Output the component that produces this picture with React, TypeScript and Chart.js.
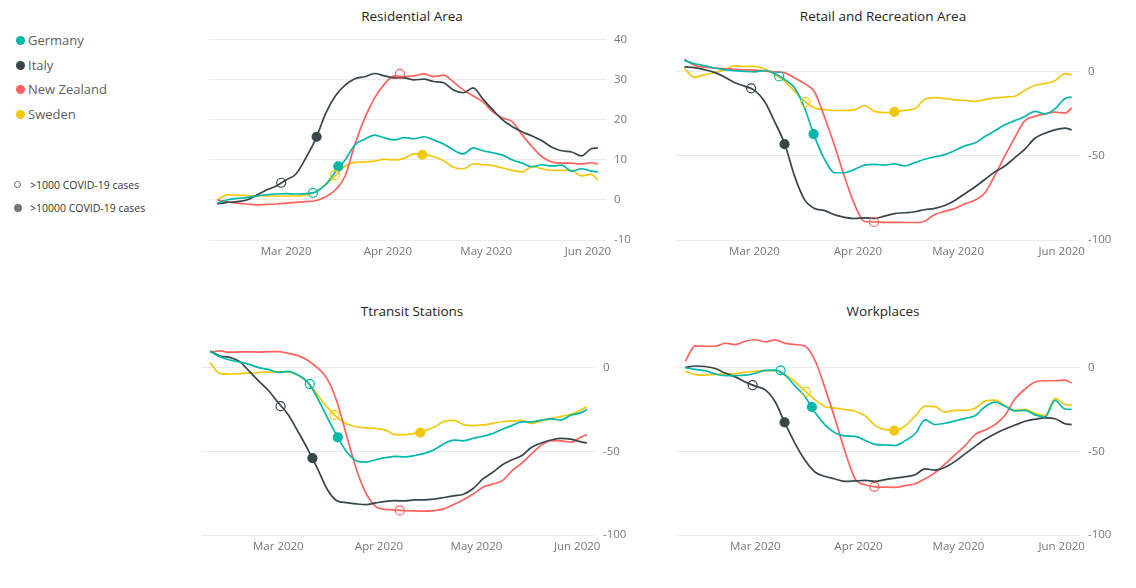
import React, { useEffect, useRef } from "react";
import { Chart, registerables } from "chart.js";

Chart.register(...registerables);

const FONT = "'Segoe UI', 'Open Sans', sans-serif";

// day offsets relative to 1 Mar 2020
const days = [-21, -18, -15, -12, -9, -6, -3, 0, 3, 6, 9, 12, 15, 18, 21, 24, 27, 30, 33, 36, 39, 42, 45, 48, 51, 54, 57, 60, 63, 66, 69, 72, 75, 78, 81, 84, 87, 90, 93, 95];
const monthTickDays = [0, 31, 61, 92];
const monthTickLabels = ["Mar 2020", "Apr 2020", "May 2020", "Jun 2020"];

const countries = ["Germany", "Italy", "New Zealand", "Sweden"];
const countryColors = ["#01B8AA", "#374649", "#FD625E", "#F2C80F"];

// Residential Area
const residentialGermany = [-0.8, 0, 0.4, 0.6, 1, 1.3, 1.5, 1.6, 1.5, 1.6, 2, 3.8, 7, 10, 13.8, 15.2, 16.2, 15.5, 15, 15.6, 15.3, 15.8, 15, 14, 12.5, 11.5, 13, 12.3, 11.8, 11.2, 10, 9.2, 8.3, 8.8, 8.5, 8.7, 7.2, 7.8, 7.2, 7];
const residentialItaly = [-1, -0.6, -0.4, 0, 1.2, 2.5, 3.5, 5, 6.5, 10.5, 15.2, 21.5, 26, 28.7, 30.3, 30.8, 31.6, 31, 30.5, 30.5, 30, 30.2, 29.6, 29.3, 27.5, 26.8, 28, 25.2, 22.5, 20, 18.3, 17, 16, 14.8, 13.2, 12.3, 12, 11, 12.8, 13];
const residentialNewZealand = [0, -0.5, -0.8, -1, -1.2, -1.1, -1, -0.8, -0.6, -0.4, -0.2, 0.8, 2.5, 6, 14, 20.5, 25.5, 29, 31, 30.8, 31, 31.5, 30.8, 31.2, 29.5, 27.5, 26, 24.5, 22, 20.5, 19.5, 16.2, 13.3, 10.8, 9.5, 9.2, 9.2, 9, 9.3, 9];
const residentialSweden = [0, 1.3, 1.2, 1.1, 1, 1, 1, 1, 1, 1.2, 2, 3.8, 6, 8.5, 9.4, 9.5, 9.7, 10.2, 10, 10.4, 11.5, 11.4, 10.8, 9.8, 8.2, 7.8, 9, 8.8, 8.6, 8, 7.4, 7, 8.4, 7.8, 7.4, 7.4, 7.4, 6, 6.4, 5];

// Retail and Recreation Area
const retailGermany = [6.8, 4.8, 3.7, 2.3, 1.3, 0.7, 0.3, 0, 0.8, -1, -4.5, -9.5, -21.5, -38.5, -52, -60, -60, -58, -55.5, -55, -55.5, -54.7, -56, -54, -52, -50.5, -49.2, -46.8, -44, -42.3, -38.5, -35, -31.5, -29, -26.5, -23.5, -25, -22, -15.8, -15];
const retailItaly = [3, 2.5, 1.3, -0.3, -3, -6.3, -8.5, -11, -17.5, -29.5, -42.5, -62, -76, -81.3, -82.5, -85, -86.5, -87.2, -86.8, -87.2, -85.8, -84.3, -83.8, -83.2, -82, -81.2, -79.5, -76.5, -72.5, -68.5, -64, -59.5, -56, -51, -46, -39.5, -36.5, -34.5, -33.5, -34.5];
const retailNewZealand = [7.5, 4, 2.8, 2.3, 2, 1.5, 1.2, 1, 0.5, 0, -0.5, -3.5, -7, -12, -27, -44, -62.5, -79, -89, -89.3, -89.5, -89.5, -89.6, -89.6, -88.8, -84.8, -83, -81.3, -78.5, -76.4, -72, -61.5, -50, -39, -29, -26.5, -25, -24, -24.5, -21.5];
const retailSweden = [2, -3.3, -1.7, -0.5, 1.2, 3.5, 3.2, 3.3, 1.8, -1.5, -5.5, -11.5, -17.5, -21.5, -22.5, -23, -23, -22.5, -20, -23.5, -24.2, -23.8, -22.9, -22, -16.3, -15.3, -15.8, -16.7, -17, -17.6, -16.5, -15.5, -15, -14.5, -11, -8, -7, -5.3, -1, -1.8];

// Transit Stations
const transitGermany = [9.8, 6.5, 4.6, 3.4, 2, 0, -1, -2.8, -2.2, -4.3, -8.5, -18, -29.5, -40.5, -50.3, -55.6, -56.5, -55, -53.8, -53, -53.3, -52.5, -51.2, -49, -45.5, -43.3, -43.7, -42.2, -41, -39.3, -36.8, -34.5, -32.4, -32.4, -31.3, -30.6, -31.3, -28.4, -27, -25];
const transitItaly = [10, 7, 6.2, 3.8, -2, -8, -13.8, -21, -28, -38, -48.5, -60, -72.5, -79.5, -80.7, -81.4, -81.8, -80.8, -79.9, -79.5, -79.6, -79, -79, -78.5, -77.6, -76.6, -75.6, -72.2, -66.5, -62.5, -58, -55, -52.5, -47.5, -45, -43.2, -42.2, -42.7, -44.2, -45];
const transitNewZealand = [9.2, 10, 9.3, 9.4, 9.5, 9.3, 9.6, 9.6, 8.6, 7.2, 4.5, 0, -6.5, -20, -40.5, -60.5, -75, -83, -84.7, -85.1, -85.4, -85.6, -85.7, -85.4, -84.4, -81.8, -78.9, -75.5, -71.5, -69.6, -67.5, -61.5, -57, -51.5, -46.3, -43.6, -43.7, -44.5, -41.7, -40];
const transitSweden = [3, -3.5, -3.8, -3.5, -3.2, -2.8, -2.6, -2.5, -2.5, -4.3, -8.8, -16, -23.5, -29.5, -33.5, -35.3, -36, -36.3, -37.3, -40, -40, -39.3, -37.8, -35.5, -32.2, -31.5, -34, -34.6, -34.2, -33.3, -32.3, -31.8, -31.5, -33.3, -31.8, -30.4, -29.1, -27.9, -25.5, -23.2];

// Workplaces
const workGermany = [0, -1, -1.8, -3.8, -4.8, -4.7, -4.5, -3.3, -1.6, -1.4, -4.6, -11, -17.5, -27, -34.3, -39, -40.8, -41, -43.5, -45.8, -46.2, -46.5, -43.6, -39.5, -31.2, -34, -33.2, -31.8, -30.3, -28.7, -23.3, -20.6, -23, -25.8, -25.5, -28.2, -29.4, -19.5, -24.7, -24.9];
const workItaly = [0.1, 1, 0.7, -0.5, -3.2, -5.5, -8.5, -11, -13.3, -20.5, -33.5, -45.5, -55.5, -62.5, -65, -66.5, -68, -67.7, -67.4, -68, -66.9, -66, -65.2, -64, -60.5, -61.2, -59.5, -56, -51.5, -47, -42.8, -39.5, -36.7, -34.3, -32, -30.8, -30, -30.5, -33.5, -34];
const workNewZealand = [3.9, 13, 12.8, 12.8, 14.6, 13.8, 15.8, 16.7, 15.5, 16.6, 14.5, 13.8, 12.8, 4, -12.5, -31, -50.5, -66.5, -70, -71.2, -71.4, -71.5, -70.5, -69.4, -66.4, -62.7, -57.5, -52, -46.6, -40, -37.2, -34, -28.4, -18.6, -12.8, -8.6, -7.8, -7.8, -7.4, -9.2];
const workSweden = [-2.2, -4.1, -4.5, -4, -3.7, -3.5, -2.7, -2.2, -1.8, -1.8, -4, -8.6, -14, -19.3, -23.3, -24.2, -25, -26, -28.8, -34.6, -37, -37.4, -34.7, -29, -23, -23.3, -26.5, -25.5, -25.5, -24.3, -20, -19.4, -22.7, -25.5, -24.9, -27.3, -28.7, -18.3, -22, -22.5];

const residentialTicks = [-10, 0, 10, 20, 30, 40];
const mobilityTicks = [-100, -50, 0];

// markers: [country index, day, value, filled (1) / open (0)]
const residentialMarkers = [[1, -1.5, 4.3, 0], [1, 9.3, 15.8, 1], [0, 8.2, 1.8, 0], [0, 15.9, 8.4, 1], [3, 14.9, 6.2, 0], [3, 41.5, 11.3, 1], [2, 34.7, 31.5, 0]];
const retailMarkers = [[1, -1, -9.8, 0], [1, 9, -43, 1], [0, 7.4, -2.7, 0], [0, 17.7, -37, 1], [3, 15.3, -18, 0], [3, 41.9, -23.8, 1], [2, 35.8, -89.3, 0]];
const transitMarkers = [[1, 0.7, -23, 0], [1, 10.5, -54, 1], [0, 9.7, -9.8, 0], [0, 18.3, -41.6, 1], [3, 17.3, -28.4, 0], [3, 43.7, -38.8, 1], [2, 37.4, -85.3, 0]];
const workMarkers = [[1, -0.8, -10.4, 0], [1, 8.8, -32.7, 1], [0, 7.6, -1.6, 0], [0, 17, -23.5, 1], [3, 15.2, -14.3, 0], [3, 41.7, -37.6, 1], [2, 35.8, -71.2, 0]];

type Area = { l: number; t: number; r: number; b: number };

const PAD = 12;
const YW = 50;
const XH = 30;

function Panel(props: {
  series: number[][];
  markers: number[][];
  area: Area;
  yMin: number;
  yMax: number;
  ticks: number[];
}) {
  const { series, markers, area, yMin, yMax, ticks } = props;
  const ref = useRef<HTMLCanvasElement | null>(null);
  const w = PAD + (area.r - area.l) + YW;
  const h = PAD + (area.b - area.t) + XH;

  useEffect(() => {
    const lineSets = series.map((vals, ci) => ({
      label: countries[ci],
      data: days.map((d, i) => ({ x: d, y: vals[i] })),
      borderColor: countryColors[ci],
      backgroundColor: countryColors[ci],
      borderWidth: 1.7,
      pointRadius: 0,
      fill: false,
      cubicInterpolationMode: "monotone" as const,
    }));
    const markerSet = {
      label: "markers",
      data: markers.map((m) => ({ x: m[1], y: m[2] })),
      showLine: false,
      pointRadius: 4.5,
      pointBorderWidth: 1.2,
      pointBorderColor: markers.map((m) => countryColors[m[0]]),
      pointBackgroundColor: markers.map((m) => (m[3] ? countryColors[m[0]] : "rgba(255,255,255,0)")),
      borderColor: "rgba(0,0,0,0)",
    };
    const chart = new Chart(ref.current as HTMLCanvasElement, {
      type: "line",
      data: { datasets: [markerSet as any, ...lineSets] },
      options: {
        animation: false,
        responsive: false,
        events: [],
        layout: { padding: { left: PAD, top: PAD, right: 0, bottom: 0 } },
        plugins: { legend: { display: false }, tooltip: { enabled: false }, title: { display: false } },
        scales: {
          x: {
            type: "linear",
            min: -23.5,
            max: 97.5,
            grid: { display: false, drawTicks: false },
            border: { display: false },
            afterBuildTicks: (s: any) => {
              s.ticks = monthTickDays.map((v) => ({ value: v }));
            },
            afterFit: (s: any) => {
              s.height = XH;
            },
            ticks: {
              autoSkip: false,
              maxRotation: 0,
              padding: 5,
              color: "#777777",
              font: { family: FONT, size: 11.5 },
              callback: (v: any) => {
                const i = monthTickDays.indexOf(Number(v));
                return i >= 0 ? monthTickLabels[i] : "";
              },
            },
          },
          y: {
            type: "linear",
            position: "right",
            min: yMin,
            max: yMax,
            afterBuildTicks: (s: any) => {
              s.ticks = ticks.map((v) => ({ value: v }));
            },
            afterFit: (s: any) => {
              s.width = YW;
            },
            grid: { color: "#ebebeb", drawTicks: false, lineWidth: 1 },
            border: { display: false },
            ticks: {
              padding: 8,
              color: "#777777",
              font: { family: FONT, size: 11.5 },
            },
          },
        },
      },
    });
    return () => chart.destroy();
  }, []);

  return (
    <canvas
      ref={ref}
      width={w}
      height={h}
      style={{ position: "absolute", left: area.l - PAD, top: area.t - PAD, width: w, height: h }}
    />
  );
}

function Title(props: { text: string; cx: number; cy: number }) {
  return (
    <div
      style={{
        position: "absolute",
        left: props.cx - 150,
        top: props.cy - 10,
        width: 300,
        height: 20,
        lineHeight: "20px",
        textAlign: "center",
        fontSize: 13.5,
        color: "#252423",
        whiteSpace: "nowrap",
      }}
    >
      {props.text}
    </div>
  );
}

export default function App() {
  const legendY = [40, 65, 89, 114];
  return (
    <div
      style={{
        position: "fixed",
        left: 0,
        top: 0,
        width: 1136,
        height: 588,
        background: "#ffffff",
        fontFamily: FONT,
        overflow: "hidden",
      }}
    >
      {countries.map((c, i) => (
        <React.Fragment key={c}>
          <div
            style={{
              position: "absolute",
              left: 16,
              top: legendY[i] - 4.5,
              width: 9,
              height: 9,
              borderRadius: "50%",
              background: countryColors[i],
            }}
          />
          <div
            style={{
              position: "absolute",
              left: 28,
              top: legendY[i] - 10,
              height: 20,
              lineHeight: "20px",
              fontSize: 13,
              color: "#605E5C",
              whiteSpace: "nowrap",
            }}
          >
            {c}
          </div>
        </React.Fragment>
      ))}
      <div
        style={{
          position: "absolute",
          left: 14,
          top: 181,
          width: 7,
          height: 7,
          borderRadius: "50%",
          border: "1px solid #666",
          boxSizing: "border-box",
        }}
      />
      <div style={{ position: "absolute", left: 30, top: 176, lineHeight: "18px", fontSize: 10.5, color: "#333", whiteSpace: "nowrap" }}>
        &gt;1000 COVID-19 cases
      </div>
      <div
        style={{
          position: "absolute",
          left: 14,
          top: 204,
          width: 8,
          height: 8,
          borderRadius: "50%",
          background: "#777",
        }}
      />
      <div style={{ position: "absolute", left: 30, top: 199, lineHeight: "18px", fontSize: 10.5, color: "#333", whiteSpace: "nowrap" }}>
        &gt;10000 COVID-19 cases
      </div>

      <Title text="Residential Area" cx={412} cy={16} />
      <Title text="Retail and Recreation Area" cx={883} cy={16} />
      <Title text="Ttransit Stations" cx={412} cy={311} />
      <Title text="Workplaces" cx={883} cy={311} />

      <Panel
        series={[residentialGermany, residentialItaly, residentialNewZealand, residentialSweden]}
        markers={residentialMarkers}
        area={{ l: 209, t: 37, r: 606, b: 240 }}
        yMin={-10}
        yMax={40}
        ticks={residentialTicks}
      />
      <Panel
        series={[retailGermany, retailItaly, retailNewZealand, retailSweden]}
        markers={retailMarkers}
        area={{ l: 676, t: 37, r: 1080, b: 240 }}
        yMin={-100}
        yMax={19}
        ticks={mobilityTicks}
      />
      <Panel
        series={[transitGermany, transitItaly, transitNewZealand, transitSweden]}
        markers={transitMarkers}
        area={{ l: 202, t: 333, r: 595, b: 535 }}
        yMin={-100}
        yMax={19}
        ticks={mobilityTicks}
      />
      <Panel
        series={[workGermany, workItaly, workNewZealand, workSweden]}
        markers={workMarkers}
        area={{ l: 677, t: 333, r: 1080, b: 535 }}
        yMin={-100}
        yMax={19}
        ticks={mobilityTicks}
      />
    </div>
  );
}
